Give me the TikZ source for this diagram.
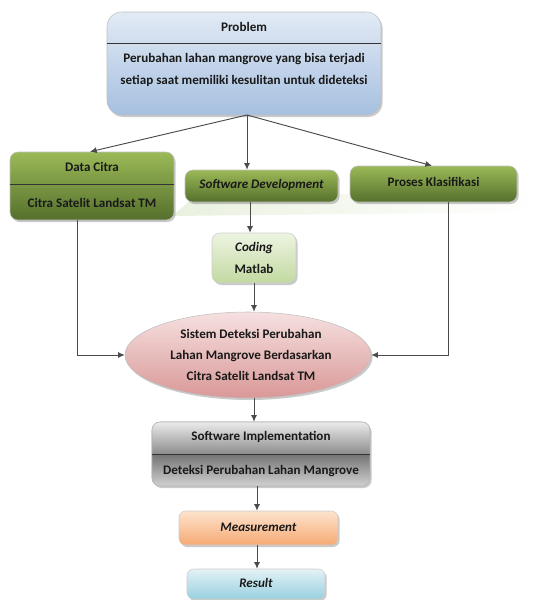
\documentclass[tikz,border=0pt]{standalone}
\usepackage{fontspec}
\setmainfont{Carlito}
\usetikzlibrary{shapes.geometric,shadows,arrows.meta}
\definecolor{arr}{HTML}{4A4A4A}
\definecolor{band}{HTML}{EAF1E0}
\tikzset{
  base/.style={draw=#1, line width=0.4pt, inner sep=0pt,
    drop shadow={shadow xshift=1.2pt, shadow yshift=-1.5pt, opacity=0.35, fill=black!60}},
  probbox/.style={base=black!25, rounded corners=11pt, top color=probT, bottom color=probB},
  greenbox/.style={base=black!25, rounded corners=6pt, shading angle=0, top color=grnT, bottom color=grnB},
  codbox/.style={base=black!20, rounded corners=6pt, top color=codT, bottom color=codB},
  ellbox/.style={base=black!25, ellipse, top color=ellT, bottom color=ellB},
  sibox/.style={base=black!25, rounded corners=6pt},
  measbox/.style={base=black!20, rounded corners=5pt, top color=meaT, bottom color=meaB},
  resbox/.style={base=black!20, rounded corners=5pt, top color=resT, bottom color=resB},
  lbl/.style={font=\fontsize{9.8}{11.5}\selectfont\bfseries, text=black!90, align=center},
  ilbl/.style={lbl, font=\fontsize{9.8}{11.5}\selectfont\bfseries\itshape},
  conn/.style={draw=arr, line width=0.7pt, -{Latex[length=5pt,width=4.5pt]}},
  divider/.style={draw=black!80, line width=0.5pt}
}
\definecolor{probT}{HTML}{E2EAF5}
\definecolor{probB}{HTML}{A6C0E0}
\definecolor{grnT}{HTML}{9BB957}
\definecolor{grnB}{HTML}{55702C}
\definecolor{codT}{HTML}{EDF4E2}
\definecolor{codB}{HTML}{C2D9A0}
\definecolor{ellT}{HTML}{F6E0E0}
\definecolor{ellB}{HTML}{D99897}
\definecolor{meaT}{HTML}{FDE3CD}
\definecolor{meaB}{HTML}{F6AA74}
\definecolor{resT}{HTML}{E3F2F6}
\definecolor{resB}{HTML}{98D0DF}
\begin{document}
\begin{tikzpicture}[x=0.75pt,y=-0.75pt]
\useasboundingbox (0,0) rectangle (539,600);
% faint reflection band
\shade[left color=band, right color=white] (172,216) -- (198,194) -- (539,194) -- (539,212) -- cycle;

% Problem
\node[probbox, minimum width=274*0.75pt, minimum height=103*0.75pt] (prob) at (244,63.5) {};
\draw[divider] (prob.west |- 0,43) -- (prob.east |- 0,43);
\node[lbl] (probT) at (244,27) {Problem};
\node[lbl] (probD) at (244,70) {Perubahan lahan mangrove yang bisa terjadi\\[5pt] setiap saat memiliki kesulitan untuk dideteksi};

% Data Citra
\node[greenbox, minimum width=164*0.75pt, minimum height=68*0.75pt] (dc) at (92,186) {};
\draw[divider] (dc.west |- 0,184) -- (dc.east |- 0,184);
\node[lbl] (dcT) at (92,167) {Data Citra};
\node[lbl] (dcD) at (92,203) {Citra Satelit Landsat TM};

% Software Development
\node[greenbox, minimum width=153*0.75pt, minimum height=32*0.75pt] (sd) at (261.5,186) {};
\node[ilbl] (sdT) at (261.5,185) {Software Development};

% Proses Klasifikasi
\node[greenbox, minimum width=167*0.75pt, minimum height=36*0.75pt] (pk) at (433.5,184) {};
\node[lbl] (pkT) at (433.5,182) {Proses Klasifikasi};

% Coding
\node[codbox, minimum width=84*0.75pt, minimum height=50*0.75pt] (cod) at (254,258) {};
\node[ilbl] (codT) at (254,248) {Coding};
\node[lbl] (codD) at (254,269) {Matlab};

% Ellipse
\node[ellbox, minimum width=246*0.75pt, minimum height=86*0.75pt] (ell) at (248,355) {};
\node[lbl] (ellT) at (251,355) {Sistem Deteksi Perubahan\\[4pt] Lahan Mangrove Berdasarkan\\[4pt] Citra Satelit Landsat TM};

% Software Implementation
\node[sibox, minimum width=218*0.75pt, minimum height=64*0.75pt] (si) at (261,454) {};
\begin{scope}
\clip[rounded corners=6pt] (152,422) rectangle (370,486);
\shade[top color=white!92!black, bottom color=black!45] (152,422) rectangle (370,454);
\shade[top color=black!55, bottom color=black!18] (152,454) rectangle (370,486);
\end{scope}
\draw[black!30, rounded corners=6pt] (152,422) rectangle (370,486);
\draw[divider] (si.west |- 0,454) -- (si.east |- 0,454);
\node[lbl] (siT) at (261,437) {Software Implementation};
\node[lbl] (siD) at (261,471) {Deteksi Perubahan Lahan Mangrove};

% Measurement
\node[measbox, minimum width=159*0.75pt, minimum height=34*0.75pt] (meas) at (258.5,528) {};
\node[ilbl] (measT) at (258.5,527) {Measurement};

% Result
\node[resbox, minimum width=138*0.75pt, minimum height=30*0.75pt] (res) at (256,584) {};
\node[ilbl] (resT) at (256,583) {Result};

% connectors
\coordinate (top) at (247,115);
\draw[conn] (top) -- (dc.north -| 90,0);
\draw[conn] (top) -- (top |- sd.north);
\draw[conn] (top) -- (pk.north -| 432,0);
\draw[conn] (sd.south -| 250,0) -- (cod.north -| 250,0);
\draw[conn] (cod.south) -- (cod.south |- ell.north);
\draw[conn] (dc.south -| 77,0) |- (ell.west);
\draw[conn] (pk.south -| 448,0) |- (ell.east);
\draw[conn] (ell.south -| 254,0) -- (si.north -| 254,0);
\draw[conn] (si.south -| 257,0) -- (meas.north -| 257,0);
\draw[conn] (meas.south -| 257,0) -- (res.north -| 257,0);
\end{tikzpicture}
\end{document}
